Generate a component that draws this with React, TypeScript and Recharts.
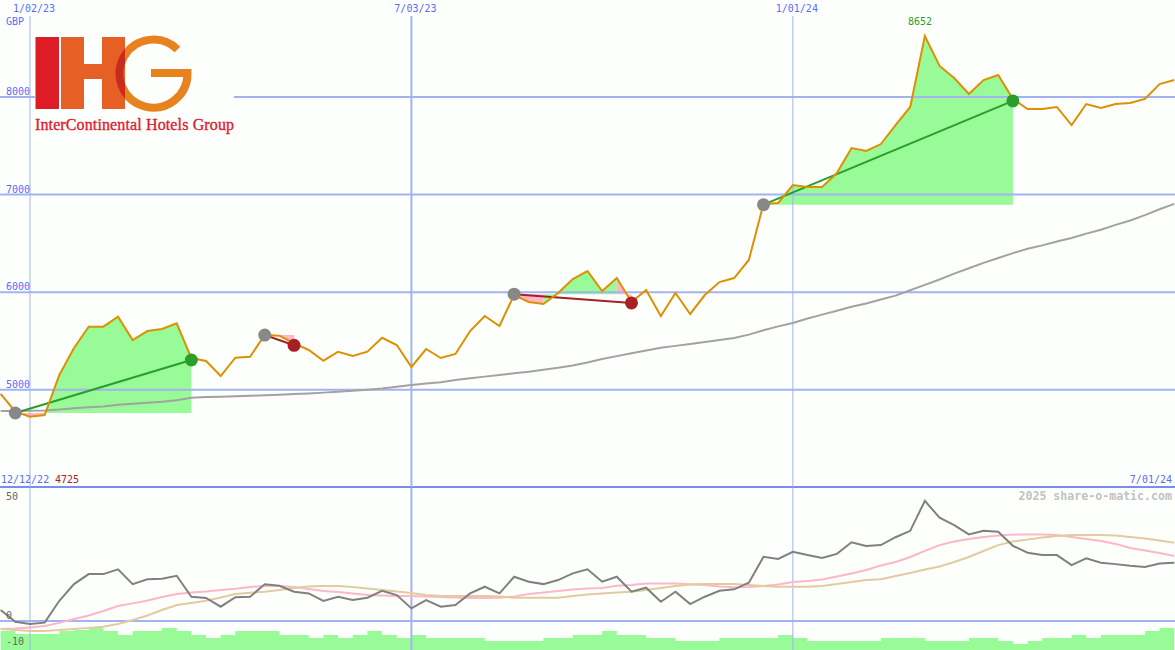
import React from 'react'
import { ComposedChart, Line, Area, XAxis, YAxis, ReferenceLine, ReferenceDot } from 'recharts'

const firstWeek = -2
const weeks = Array.from({ length: 81 }, (_, k) => firstWeek + k)

const price = [
  4957, 4776, 4725, 4742, 5152, 5428, 5647, 5647, 5749, 5510, 5602, 5623, 5681, 5325, 5295, 5141, 5329, 5339, 5561, 5554,
  5476, 5408, 5298, 5390, 5346, 5390, 5533, 5459, 5234, 5418, 5326, 5367, 5602, 5756, 5654, 5971, 5900, 5879, 5992, 6135,
  6217, 6012, 6145, 5900, 6023, 5756, 5992, 5777, 5971, 6104, 6145, 6330, 6904, 6914, 7098, 7078, 7078, 7221, 7477, 7447,
  7518, 7713, 7898, 8625, 8318, 8195, 8031, 8174, 8225, 7980, 7877, 7877, 7898, 7713, 7928, 7887, 7928, 7938, 7980, 8133,
  8174,
]
const slowAverage = [
  4783, 4783, 4785, 4788, 4797, 4810, 4820, 4830, 4846, 4858, 4868, 4878, 4892, 4919, 4925, 4930, 4934, 4938, 4945, 4950,
  4956, 4963, 4971, 4980, 4989, 5000, 5014, 5032, 5049, 5065, 5078, 5100, 5118, 5135, 5152, 5170, 5185, 5205, 5225, 5250,
  5280, 5316, 5345, 5375, 5402, 5430, 5450, 5470, 5490, 5510, 5530, 5565, 5610, 5650, 5684, 5730, 5770, 5810, 5850, 5885,
  5925, 5965, 6020, 6075, 6130, 6190, 6245, 6300, 6350, 6400, 6445, 6480, 6520, 6555, 6600, 6640, 6690, 6735, 6790, 6850,
  6905,
]
const momentum = [
  4.6, -0.3, -1.3, -0.7, 8.5, 15.5, 19.7, 19.7, 21.7, 15.5, 17.5, 17.8, 19.0, 10.2, 9.7, 6.0, 10.0, 10.2, 15.4, 14.8,
  12.3, 11.6, 8.4, 10.2, 8.8, 9.8, 12.7, 10.9, 5.3, 8.8, 6.0, 6.7, 11.6, 14.4, 11.6, 18.6, 16.5, 15.5, 17.2, 20.0,
  21.7, 16.5, 18.6, 12.3, 14.0, 8.1, 12.3, 7.1, 10.2, 12.7, 13.3, 16.1, 27.0, 26.1, 29.1, 27.7, 26.5, 28.2, 33.1, 31.5,
  31.9, 35.2, 37.9, 50.5, 43.4, 40.3, 36.4, 37.9, 37.5, 31.6, 28.7, 27.7, 27.7, 23.5, 26.3, 24.5, 23.9, 23.2, 22.7, 24.2,
  24.5,
]
const momentumFast = [
  -3.4, -3.2, -2.7, -2.1, -0.8, 0.8, 2.3, 4.2, 6.3, 7.4, 8.6, 10.1, 11.3, 12.0, 12.4, 13.0, 13.5, 14.3, 14.7, 14.7,
  14.3, 13.4, 12.6, 12.2, 11.6, 10.9, 10.7, 10.5, 10.5, 10.3, 10.1, 9.9, 9.7, 9.7, 9.8, 10.3, 11.3, 12.0, 12.6, 13.2,
  13.7, 13.9, 14.8, 15.1, 15.8, 15.8, 15.8, 15.4, 15.1, 14.5, 14.2, 14.3, 14.7, 15.3, 16.4, 16.8, 17.4, 18.7, 20.0, 21.4,
  23.3, 24.8, 26.9, 29.5, 31.9, 33.4, 34.5, 35.3, 35.9, 36.3, 36.4, 36.4, 36.1, 35.3, 34.5, 33.6, 32.4, 30.7, 29.6, 28.6,
  27.3,
]
const momentumSlow = [
  -3.4, -3.8, -4.2, -4.2, -3.8, -3.4, -2.9, -2.4, -1.3, 0.4, 2.3, 4.6, 6.7, 7.6, 8.5, 9.9, 11.3, 11.9, 12.3, 13.0,
  13.9, 14.5, 14.7, 14.7, 14.3, 13.7, 13.0, 12.4, 11.8, 10.9, 10.5, 10.5, 10.5, 10.5, 10.3, 9.8, 9.8, 9.8, 9.8, 10.5,
  11.1, 11.6, 12.0, 12.3, 13.0, 13.9, 14.7, 15.3, 15.5, 15.5, 15.5, 15.1, 14.7, 14.4, 14.4, 14.4, 14.7, 15.5, 16.4, 17.2,
  17.5, 18.9, 20.2, 21.6, 22.9, 24.8, 26.9, 29.4, 31.9, 33.4, 34.2, 35.1, 35.7, 36.1, 36.1, 36.1, 35.9, 35.3, 34.7, 33.8,
  32.9,
]
const volume = [
  19, 16, 16, 16, 19, 20, 22, 19, 15, 19, 19, 22, 19, 15, 12, 15, 19, 19, 19, 15,
  15, 12, 15, 12, 15, 19, 15, 12, 15, 12, 12, 12, 12, 9, 9, 9, 9, 12, 12, 15,
  15, 19, 15, 15, 12, 12, 9, 9, 9, 12, 12, 12, 12, 15, 12, 9, 9, 9, 9, 9,
  12, 12, 12, 9, 9, 9, 12, 12, 9, 6, 9, 12, 12, 15, 12, 15, 15, 15, 19, 22,
  22,
]

const tradeStart = [-1, 16, 33, 50]
const tradeEnd = [11, 18, 41, 67]
const tradeOpen = [4762, 5561, 5980, 6897]
const tradeClose = [5305, 5456, 5890, 7960]

const dateTicks = [0, 26, 52]
const dateLabels = ['1/02/23', '7/03/23', '1/01/24']
const dateWidths = [1, 2, 1]
const priceTicks = [5000, 6000, 7000, 8000]
const momentumTicks = [50, 0, -10]
const highLabel = '8652'
const lowLabel = '4725'

const paper = '#fdfffd'
const gridBlue = '#a3b3f2'
const labelBlue = '#5a6cf5'
const mono = '"DejaVu Sans Mono", monospace'
const up = '#2a9d2a'
const down = '#a62024'
const paleGreen = '#98fb98'
const palePink = '#ffb6c8'

const empty = [null, null]
const priceAt = (week: number) => price[week - firstWeek]

// one fill slice per week step, coloured by where the step ends
const fillFor = (from: number, to: number) => {
  const t = tradeStart.findIndex((s, k) => s <= from && to <= tradeEnd[k])
  if (t < 0) return { green: empty, pink: empty }
  const span = [tradeOpen[t], priceAt(from)]
  return priceAt(to) >= tradeOpen[t] ? { green: span, pink: empty } : { green: empty, pink: span }
}

const priceRows = weeks.flatMap((week, k) => {
  const row = { week, price: price[k], slowAverage: slowAverage[k] }
  const closing = fillFor(week - 1, week)
  const opening = fillFor(week, week + 1)
  const closingSpan = (s: any) => (s === empty ? empty : [s[0], price[k]])
  return [
    { ...row, green: closingSpan(closing.green), pink: closingSpan(closing.pink) },
    { ...row, green: opening.green, pink: opening.pink },
  ]
})

const lowerRows = weeks.map((week, k) => ({
  week,
  momentum: momentum[k],
  momentumFast: momentumFast[k],
  momentumSlow: momentumSlow[k],
  volume: volume[k],
}))

const DateTick = ({ x, payload }: any) => (
  <text x={x + 4} y={12} textAnchor="middle" fontFamily={mono} fontSize={10} fill={labelBlue}>
    {dateLabels[dateTicks.indexOf(payload.value)]}
  </text>
)

const PriceTick = ({ y, payload }: any) => (
  <text x={30} y={y - 2} textAnchor="end" fontFamily={mono} fontSize={10} fill={labelBlue}>
    {payload.value}
  </text>
)

const MomentumTick = ({ y, payload }: any) => (
  <text x={6} y={y - (payload.value < 0 ? 0 : 2)} fontFamily={mono} fontSize={10} fill="#666666">
    {payload.value}
  </text>
)

const Logo = () => {
  const g = 'M 177.5 49.5 A 34 34 0 1 0 187.5 73 L 151 73'
  return (
    <g>
      <rect x={35} y={33} width={199} height={103} fill={paper} />
      <rect x={35.5} y={37} width={23.5} height={72} fill="#dd1c27" />
      <path d="M61 37h23v27h18v-27h23v72h-23v-30h-18v30h-23z" fill="#e65f25" />
      <path d={g} fill="none" stroke="#e8821e" strokeWidth={8} />
      <clipPath id="ihg-overlap">
        <rect x={102} y={37} width={23} height={72} />
      </clipPath>
      <path d={g} fill="none" stroke="#c92c1e" strokeWidth={8} clipPath="url(#ihg-overlap)" />
      <text x={35} y={130} fontFamily='"Liberation Serif", serif' fontSize={16} fill="#dc1c2e" stroke="#dc1c2e" strokeWidth={0.35} textLength={199} lengthAdjust="spacing">
        InterContinental Hotels Group
      </text>
    </g>
  )
}

const Overlay = () => (
  <svg width={1175} height={650} style={{ position: 'absolute', left: 0, top: 0 }}>
    <Logo />
    <text x={6} y={25} fontFamily={mono} fontSize={10} fill={labelBlue}>GBP</text>
    <text x={920} y={25} textAnchor="middle" fontFamily={mono} fontSize={10} fill={up}>{highLabel}</text>
    <text x={1} y={483} fontFamily={mono} fontSize={10} fill={labelBlue}>12/12/22</text>
    <text x={55} y={483} fontFamily={mono} fontSize={10} fill={down}>{lowLabel}</text>
    <text x={1172} y={483} textAnchor="end" fontFamily={mono} fontSize={10} fill={labelBlue}>7/01/24</text>
    <text x={1172} y={500} textAnchor="end" fontFamily={mono} fontSize={11.6} fontWeight="bold" fill="#c2c2c2">2025 share-o-matic.com</text>
  </svg>
)

const App = () => {
  const domain = [-2.045, 78.05]
  return (
    <div style={{ position: 'absolute', left: 0, top: 0, width: 1175, height: 650, background: paper, overflow: 'hidden' }}>
      <ComposedChart width={1175} height={488} data={priceRows} margin={{ top: 0, right: 0, bottom: 1, left: 0 }}>
        <XAxis dataKey="week" type="number" orientation="top" height={16} domain={domain} ticks={dateTicks} interval={0} axisLine={false} tickLine={false} tick={<DateTick />} />
        <YAxis type="number" mirror domain={[4004, 8830]} ticks={priceTicks} interval={0} axisLine={false} tickLine={false} tick={<PriceTick />} />
        {priceTicks.map((v) => (
          <ReferenceLine key={v} y={v} stroke={gridBlue} strokeWidth={2} />
        ))}
        <ReferenceLine y={4004} stroke="#7a8cee" strokeWidth={2} />
        {dateTicks.map((w, k) => (
          <ReferenceLine key={w} x={w} stroke={gridBlue} strokeWidth={dateWidths[k]} />
        ))}
        <Area dataKey="green" stroke="none" fill={paleGreen} fillOpacity={1} dot={false} activeDot={false} isAnimationActive={false} />
        <Area dataKey="pink" stroke="none" fill={palePink} fillOpacity={1} dot={false} activeDot={false} isAnimationActive={false} />
        <Line dataKey="slowAverage" stroke="#a2a2a2" strokeWidth={2} dot={false} activeDot={false} isAnimationActive={false} />
        {tradeStart.map((s, k) => (
          <ReferenceDot key={s} x={s} y={tradeOpen[k]} r={6.5} fill="#888888" stroke="none" />
        ))}
        {tradeEnd.map((e, k) => (
          <ReferenceDot key={e} x={e} y={tradeClose[k]} r={6.5} fill={tradeClose[k] > tradeOpen[k] ? up : down} stroke="none" />
        ))}
        {tradeStart.map((s, k) => (
          <ReferenceLine
            key={s}
            segment={[{ x: s, y: tradeOpen[k] }, { x: tradeEnd[k], y: tradeClose[k] }]}
            stroke={tradeClose[k] > tradeOpen[k] ? up : down}
            strokeWidth={2}
          />
        ))}
        <Line dataKey="price" stroke="#dd9000" strokeWidth={2} dot={false} activeDot={false} isAnimationActive={false} />
      </ComposedChart>
      <div style={{ position: 'absolute', left: 0, top: 488 }}>
        <ComposedChart width={1175} height={162} data={lowerRows} margin={{ top: 0, right: 0, bottom: 0, left: 0 }}>
          <XAxis dataKey="week" type="number" hide domain={domain} />
          <YAxis yAxisId="momentum" type="number" mirror domain={[-12.2, 55.9]} ticks={momentumTicks} interval={0} axisLine={false} tickLine={false} tick={<MomentumTick />} />
          <YAxis yAxisId="volume" type="number" hide domain={[0, 162]} />
          <ReferenceLine yAxisId="momentum" y={0} stroke={gridBlue} strokeWidth={2} />
          {dateTicks.map((w, k) => (
            <ReferenceLine key={w} yAxisId="momentum" x={w} stroke={gridBlue} strokeWidth={dateWidths[k]} />
          ))}
          <Area yAxisId="volume" type="stepAfter" dataKey="volume" stroke="none" fill={paleGreen} fillOpacity={1} dot={false} activeDot={false} isAnimationActive={false} />
          <Line yAxisId="momentum" dataKey="momentumFast" stroke={palePink} strokeWidth={2} dot={false} activeDot={false} isAnimationActive={false} />
          <Line yAxisId="momentum" dataKey="momentumSlow" stroke="#e2cc9f" strokeWidth={2} dot={false} activeDot={false} isAnimationActive={false} />
          <Line yAxisId="momentum" dataKey="momentum" stroke="#808080" strokeWidth={2} dot={false} activeDot={false} isAnimationActive={false} />
        </ComposedChart>
      </div>
      <Overlay />
    </div>
  )
}

export default App
